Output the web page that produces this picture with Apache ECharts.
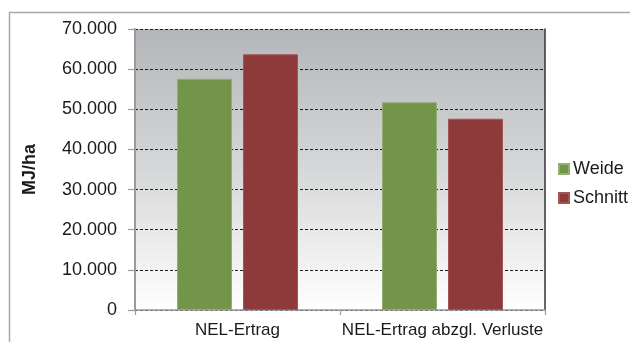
<!DOCTYPE html>
<html>
<head>
<meta charset="utf-8">
<script src="https://cdn.jsdelivr.net/npm/echarts@6/dist/echarts.min.js"></script>
<style>
  html, body { margin: 0; padding: 0; background: #ffffff; }
  #chart { width: 630px; height: 342px; }
</style>
</head>
<body>
<div id="chart"></div>
<script>
// NEL-Ertrag je Hektar, Weide vs. Schnitt
const categories = ['NEL-Ertrag', 'NEL-Ertrag abzgl. Verluste'];
const seriesNames = ['Weide', 'Schnitt'];
const weide = [57600, 51750];
const schnitt = [63700, 47650];
const axisTitle = 'MJ/ha';

const FONT = 'Liberation Sans, Arial, sans-serif';

function formatThousands(v) {
  if (v === 0) return '0';
  const s = String(Math.round(v));
  return s.replace(/\B(?=(\d{3})+(?!\d))/g, '.');
}

const chart = echarts.init(document.getElementById('chart'), null, { renderer: 'canvas' });

chart.setOption({
  animation: false,
  backgroundColor: '#ffffff',
  textStyle: { fontFamily: FONT },
  graphic: [{
    type: 'rect',
    left: 7, top: 10,
    shape: { width: 640, height: 350 },
    style: { fill: 'none', stroke: '#a9a9a9', lineWidth: 1.5 },
    z: -1
  }],
  grid: {
    left: 135, top: 29, right: 85, bottom: 32,
    show: true,
    borderWidth: 0,
    backgroundColor: {
      type: 'linear', x: 0, y: 0, x2: 0, y2: 1,
      colorStops: [
        { offset: 0, color: '#b3b5b8' },
        { offset: 0.5, color: '#d6d7d8' },
        { offset: 1, color: '#ffffff' }
      ]
    }
  },
  legend: {
    orient: 'vertical',
    left: 553, top: 155,
    itemWidth: 10, itemHeight: 10,
    itemGap: 11,
    icon: 'rect',
    textStyle: { fontFamily: FONT, fontSize: 18, color: '#1a1a1a', padding: [0, 0, 0, -1] },
    data: seriesNames
  },
  xAxis: {
    type: 'category',
    data: categories,
    axisLine: { lineStyle: { color: '#9a9a9a', width: 1.5 } },
    axisTick: { show: true, length: 5, lineStyle: { color: '#9a9a9a', width: 1.2 } },
    axisLabel: { interval: 0, fontFamily: FONT, fontSize: 17, color: '#1a1a1a', margin: 12 }
  },
  yAxis: [{
    type: 'value',
    min: 0, max: 70000, interval: 10000,
    name: axisTitle,
    nameLocation: 'middle',
    nameRotate: 90,
    nameGap: 96,
    nameTextStyle: { fontFamily: FONT, fontSize: 18, fontWeight: 'bold', color: '#1a1a1a' },
    axisLine: { show: true, lineStyle: { color: '#9a9a9a', width: 2 } },
    axisTick: { show: true, length: 7, lineStyle: { color: '#9a9a9a', width: 1.2 } },
    axisLabel: { fontFamily: FONT, fontSize: 18, color: '#1a1a1a', margin: 18, formatter: formatThousands },
    splitLine: { show: true, lineStyle: { color: '#1a1a1a', width: 1, type: [3, 2] } }
  }, {
    type: 'value',
    position: 'right',
    min: 0, max: 70000, interval: 10000,
    axisLine: { show: true, lineStyle: { color: '#333333', width: 1.5 } },
    axisTick: { show: false },
    axisLabel: { show: false },
    splitLine: { show: false }
  }],
  series: [{
    name: seriesNames[0],
    type: 'bar',
    data: weide,
    barWidth: 55,
    barGap: '20%',
    itemStyle: { color: '#72954a', borderColor: '#93ad72', borderWidth: 1 }
  }, {
    name: seriesNames[1],
    type: 'bar',
    data: schnitt,
    barWidth: 55,
    barGap: '20%',
    itemStyle: { color: '#8e3a3a', borderColor: '#a05656', borderWidth: 1 }
  }]
});
</script>
</body>
</html>
